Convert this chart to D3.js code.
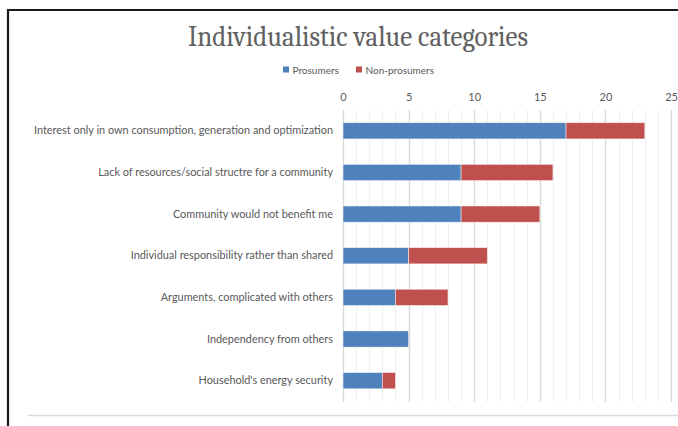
<!DOCTYPE html>
<html><head><meta charset="utf-8">
<script src="https://cdn.jsdelivr.net/npm/d3@7"></script>
<style>
html,body{margin:0;padding:0;background:#fff;}
svg{display:block;}
</style></head>
<body>
<script>
const categories = [
  "Interest only in own consumption, generation and optimization",
  "Lack of resources/social structre for a community",
  "Community would not benefit me",
  "Individual responsibility rather than shared",
  "Arguments, complicated with others",
  "Independency from others",
  "Household's energy security"
];
const prosumers = [17, 9, 9, 5, 4, 5, 3];
const nonProsumers = [6, 7, 6, 6, 4, 0, 1];
const seriesNames = ["Prosumers", "Non-prosumers"];
const seriesColors = ["#4F81BD", "#C0504D"];
const xTicks = [0, 5, 10, 15, 20, 25];
const title = "Individualistic value categories";

const W = 678, H = 426;
const svg = d3.select("body").append("svg").attr("width", W).attr("height", H);
svg.append("rect").attr("width", W).attr("height", H).attr("fill", "#fff");

// frame
svg.append("path").attr("d", `M8,${H} L8,10 L${W},10`).attr("fill", "none")
  .attr("stroke", "#1a1a1a").attr("stroke-width", 2.2);

const font = "Lato, 'Open Sans', sans-serif";
const textCol = "#595959";

svg.append("text").attr("x", 358).attr("y", 46).attr("text-anchor", "middle")
  .attr("font-family", "Cambria, 'Liberation Serif', 'DejaVu Serif', serif")
  .attr("font-size", 30).attr("fill", "#606060").text(title)
  .attr("textLength", 340).attr("lengthAdjust", "spacingAndGlyphs");

const x = d3.scaleLinear().domain([0, 25]).range([343, 671]);
const y = d3.scaleBand().domain(categories).range([110, 401.5]).paddingInner(0.61).paddingOuter(0.305);

// gridlines
const grid = svg.append("g");
grid.selectAll("line").data(d3.range(0, 26)).join("line")
  .attr("x1", d => Math.round(x(d)) + 0.5).attr("x2", d => Math.round(x(d)) + 0.5)
  .attr("y1", 110).attr("y2", 402)
  .attr("stroke", d => d % 5 === 0 ? "#d9d9d9" : "#eeeeee")
  .attr("stroke-width", d => d % 5 === 0 ? 1.4 : 1);

// top axis labels
const ax = svg.append("g").attr("transform", "translate(0,101)")
  .call(d3.axisTop(x).tickValues(xTicks).tickSize(0).tickPadding(0));
ax.select(".domain").remove();
ax.selectAll("text").attr("font-family", font).attr("font-size", 11).attr("fill", textCol);

// category labels
const ay = svg.append("g").attr("transform", "translate(333,0)")
  .call(d3.axisLeft(y).tickSize(0).tickPadding(0));
ay.select(".domain").remove();
ay.selectAll("text").attr("font-family", font).attr("font-size", 10.9).attr("fill", textCol);

// stacked bars
const rows = categories.map((c, i) => ({cat: c, Prosumers: prosumers[i], "Non-prosumers": nonProsumers[i]}));
const stack = d3.stack().keys(seriesNames)(rows);
svg.append("g").selectAll("g").data(stack).join("g")
  .attr("fill", (d, i) => seriesColors[i])
  .selectAll("rect").data(d => d.filter(p => p[1] > p[0])).join("rect")
  .attr("x", d => x(d[0])).attr("width", d => x(d[1]) - x(d[0]))
  .attr("y", d => y(d.data.cat)).attr("height", y.bandwidth())
  .attr("stroke", "#ffffff").attr("stroke-opacity", 0.6).attr("stroke-width", 0.8);

// legend
const legend = svg.append("g").attr("font-family", font).attr("font-size", 10).attr("fill", textCol);
const legX = [283, 356];
seriesNames.forEach((n, i) => {
  legend.append("rect").attr("x", legX[i]).attr("y", 66.5).attr("width", 6).attr("height", 6).attr("fill", seriesColors[i]);
  legend.append("text").attr("x", legX[i] + 9.5).attr("y", 73.5).text(n);
});

// bottom line
svg.append("line").attr("x1", 28).attr("x2", W).attr("y1", 415.5).attr("y2", 415.5)
  .attr("stroke", "#d9d9d9").attr("stroke-width", 1.5);
</script>
</body></html>
